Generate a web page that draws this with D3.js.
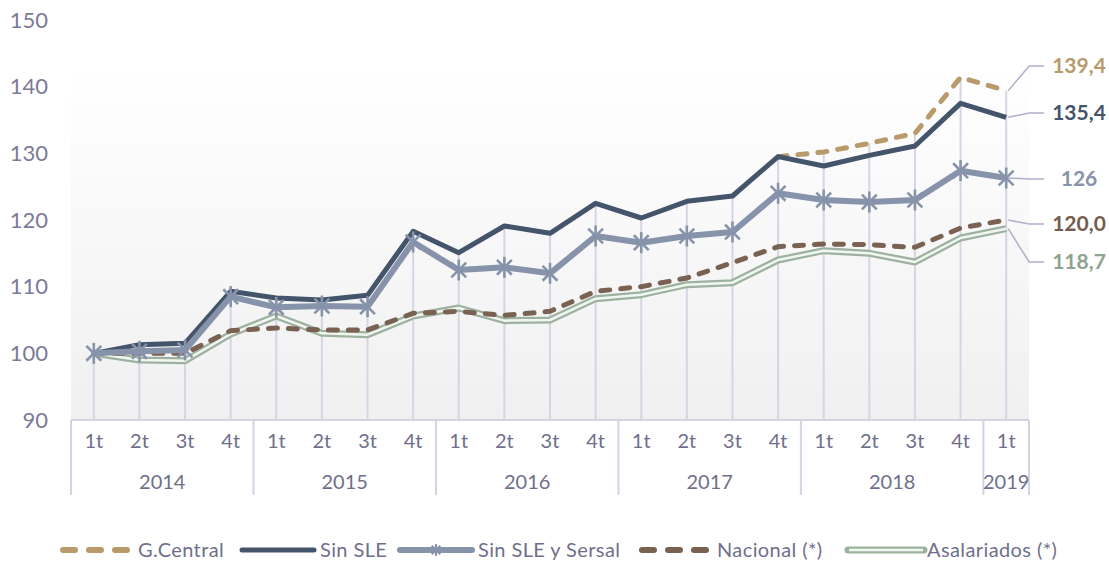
<!DOCTYPE html>
<html lang="es">
<head>
<meta charset="utf-8">
<title>Índices</title>
<script src="https://d3js.org/d3.v7.min.js"></script>
<style>
  body { margin: 0; background: #fff; }
  svg text { font-family: Lato, "Open Sans", sans-serif; }
</style>
</head>
<body>
<script>
// data
var quarters = ["1t","2t","3t","4t","1t","2t","3t","4t","1t","2t","3t","4t","1t","2t","3t","4t","1t","2t","3t","4t","1t"];
var years = ["2014","2015","2016","2017","2018","2019"];
var yearCounts = [4, 4, 4, 4, 4, 1];
var yTicks = [90, 100, 110, 120, 130, 140, 150];

var gCentral = [null,null,null,null,null,null,null,null,null,null,null,null,null,null,null,129.5,130.2,131.5,133.0,141.4,139.4];
var sinSLE   = [100,101.3,101.5,109.3,108.3,108.0,108.7,118.3,115.1,119.1,118.0,122.5,120.3,122.8,123.6,129.5,128.1,129.7,131.1,137.5,135.4];
var sersal   = [100,100.3,100.5,108.5,106.9,107.1,107.0,116.7,112.5,112.9,112.0,117.6,116.6,117.6,118.2,124.0,123.0,122.7,123.0,127.4,126.3];
var nacional = [100,100.0,100.0,103.4,103.8,103.5,103.5,106.0,106.3,105.7,106.3,109.3,110.0,111.3,113.6,116.0,116.4,116.3,115.9,118.8,120.0];
var asal     = [100,99.0,98.9,102.9,105.6,103.0,102.8,105.6,106.8,104.9,105.0,108.2,108.8,110.3,110.6,114.0,115.4,115.0,113.7,117.3,118.7];

var w = 1109, h = 562;
var plotLeft = 71, plotRight = 1029, plotTop = 20, plotBottom = 420;

var svg = d3.select("body").append("svg")
  .attr("width", w).attr("height", h);

var x = d3.scaleBand().domain(d3.range(quarters.length)).range([plotLeft, plotRight]);
var cx = function(i) { return x(i) + x.bandwidth() / 2; };
var y = d3.scaleLinear().domain([90, 150]).range([plotBottom, plotTop]);

// plot background gradient
var grad = svg.append("defs").append("linearGradient")
  .attr("id", "bg").attr("x1", 0).attr("y1", 0).attr("x2", 0).attr("y2", 1);
grad.append("stop").attr("offset", "0%").attr("stop-color", "#ffffff");
grad.append("stop").attr("offset", "100%").attr("stop-color", "#f0f0f0");
svg.append("rect")
  .attr("x", plotLeft).attr("y", 65)
  .attr("width", plotRight - plotLeft).attr("height", plotBottom - 65)
  .attr("fill", "url(#bg)");

// y axis (labels only)
var yAxis = svg.append("g")
  .attr("transform", "translate(" + 48 + ",0)")
  .call(d3.axisLeft(y).tickValues(yTicks).tickSize(0).tickPadding(0));
yAxis.select(".domain").remove();
yAxis.selectAll("text")
  .attr("fill", "#7a7a99")
  .style("font-size", "22px");

// drop lines
var all = [gCentral, sinSLE, sersal, nacional, asal];
svg.append("g").selectAll("line")
  .data(quarters)
  .join("line")
  .attr("x1", function(d, i) { return cx(i); })
  .attr("x2", function(d, i) { return cx(i); })
  .attr("y1", function(d, i) { return y(d3.max(all, function(s) { return s[i]; })); })
  .attr("y2", plotBottom)
  .attr("stroke", "#d6d5e4").attr("stroke-width", 2);

// x axis: quarters
var xAxis = svg.append("g")
  .attr("transform", "translate(0," + plotBottom + ")")
  .call(d3.axisBottom(x).tickSize(0).tickPadding(14).tickFormat(function(i) { return quarters[i]; }));
xAxis.select(".domain").remove();
xAxis.selectAll("text").attr("fill", "#6f6f8c").style("font-size", "20px");

var axisColor = "#d4d3e3";
svg.append("line")
  .attr("x1", plotLeft).attr("x2", plotRight).attr("y1", plotBottom).attr("y2", plotBottom)
  .attr("stroke", axisColor).attr("stroke-width", 2);

// x axis: years
var starts = [];
var acc = 0;
yearCounts.forEach(function(c) { starts.push(acc); acc += c; });
var bounds = starts.concat([quarters.length]);
svg.append("g").selectAll("line")
  .data(bounds)
  .join("line")
  .attr("x1", function(i) { return i < quarters.length ? x(i) : plotRight; })
  .attr("x2", function(i) { return i < quarters.length ? x(i) : plotRight; })
  .attr("y1", plotBottom).attr("y2", 495)
  .attr("stroke", axisColor).attr("stroke-width", 2);
svg.append("g").selectAll("text")
  .data(years)
  .join("text")
  .attr("x", function(d, k) { return x(starts[k]) + yearCounts[k] * x.bandwidth() / 2; })
  .attr("y", 489)
  .attr("text-anchor", "middle")
  .attr("fill", "#6f6f8c")
  .style("font-size", "20px")
  .text(function(d) { return d; });

// lines
var line = d3.line()
  .defined(function(d) { return d != null; })
  .x(function(d, i) { return cx(i); })
  .y(function(d) { return y(d); });

function star(g, px, py, r, color, sw) {
  [90, 45, 135].forEach(function(a) {
    var rad = a * Math.PI / 180;
    g.append("line")
      .attr("x1", px - r * Math.cos(rad)).attr("y1", py - r * Math.sin(rad))
      .attr("x2", px + r * Math.cos(rad)).attr("y2", py + r * Math.sin(rad))
      .attr("stroke", color).attr("stroke-width", sw);
  });
}

svg.append("path").datum(asal)
  .attr("d", line).attr("fill", "none")
  .attr("stroke", "#9cb29e").attr("stroke-width", 7).attr("stroke-linejoin", "round");
svg.append("path").datum(asal)
  .attr("d", line).attr("fill", "none")
  .attr("stroke", "#f2f6f2").attr("stroke-width", 2.5).attr("stroke-linejoin", "round");

svg.append("path").datum(nacional)
  .attr("d", line).attr("fill", "none")
  .attr("stroke", "#7a6253").attr("stroke-width", 5)
  .attr("stroke-dasharray", "9,11").attr("stroke-linecap", "round");

svg.append("path").datum(gCentral)
  .attr("d", line).attr("fill", "none")
  .attr("stroke", "#b99a6b").attr("stroke-width", 5)
  .attr("stroke-dasharray", "9,11").attr("stroke-linecap", "round");

svg.append("path").datum(sinSLE)
  .attr("d", line).attr("fill", "none")
  .attr("stroke", "#44546a").attr("stroke-width", 5).attr("stroke-linejoin", "round");

svg.append("path").datum(sersal)
  .attr("d", line).attr("fill", "none")
  .attr("stroke", "#8693aa").attr("stroke-width", 6).attr("stroke-linejoin", "round");

var mk = svg.append("g");
sersal.forEach(function(v, i) { star(mk, cx(i), y(v), 10.5, "#8693aa", 2.6); });

// end labels with leader lines
var last = quarters.length - 1;
var endLabels = [
  { s: gCentral, text: "139,4", color: "#b99a6b", ly: 66 },
  { s: sinSLE,   text: "135,4", color: "#44546a", ly: 113 },
  { s: sersal,   text: "126",   color: "#8693aa", ly: 179 },
  { s: nacional, text: "120,0", color: "#765c4e", ly: 224 },
  { s: asal,     text: "118,7", color: "#8fa391", ly: 262 }
];
endLabels.forEach(function(L) {
  var px = cx(last), py = y(L.s[last]);
  svg.append("polyline")
    .attr("points", [[px + 2, py], [px + 23, L.ly], [px + 38, L.ly]].map(function(p) { return p.join(","); }).join(" "))
    .attr("fill", "none").attr("stroke", "#b3aeca").attr("stroke-width", 1.5);
  svg.append("text")
    .attr("x", 1079).attr("y", L.ly)
    .attr("dy", "0.35em")
    .attr("text-anchor", "middle")
    .attr("fill", L.color)
    .style("font-size", "21px").style("font-weight", "bold")
    .text(L.text);
});

// legend
var legY = 550;
var legend = [
  { name: "G.Central", x: 60, color: "#b99a6b", type: "dash" },
  { name: "Sin SLE", x: 242, color: "#44546a", type: "solid" },
  { name: "Sin SLE y Sersal", x: 400, color: "#8693aa", type: "star" },
  { name: "Nacional (*)", x: 639, color: "#7a6253", type: "dash" },
  { name: "Asalariados (*)", x: 848, color: "#9cb29e", type: "double" }
];
legend.forEach(function(L) {
  var g = svg.append("g");
  var x2 = L.x + 72;
  if (L.type === "dash") {
    g.append("line").attr("x1", L.x + 3).attr("x2", x2).attr("y1", legY).attr("y2", legY)
      .attr("stroke", L.color).attr("stroke-width", 6)
      .attr("stroke-dasharray", "12,14").attr("stroke-linecap", "round");
  } else if (L.type === "double") {
    g.append("line").attr("x1", L.x).attr("x2", x2 + 4).attr("y1", legY).attr("y2", legY)
      .attr("stroke", L.color).attr("stroke-width", 7).attr("stroke-linecap", "round");
    g.append("line").attr("x1", L.x + 1).attr("x2", x2 + 3).attr("y1", legY).attr("y2", legY)
      .attr("stroke", "#f2f6f2").attr("stroke-width", 2.5);
  } else {
    g.append("line").attr("x1", L.x).attr("x2", x2).attr("y1", legY).attr("y2", legY)
      .attr("stroke", L.color).attr("stroke-width", L.type === "star" ? 6 : 5).attr("stroke-linecap", "round");
    if (L.type === "star") star(g, (L.x + x2) / 2, legY, 6, L.color, 2);
  }
  g.append("text")
    .attr("x", L.type === "double" ? x2 + 7 : x2 + 6).attr("y", legY).attr("dy", "0.35em")
    .attr("fill", "#6f6f8c")
    .style("font-size", "20px").style("letter-spacing", "0.4px")
    .text(L.name);
});
</script>
</body>
</html>
